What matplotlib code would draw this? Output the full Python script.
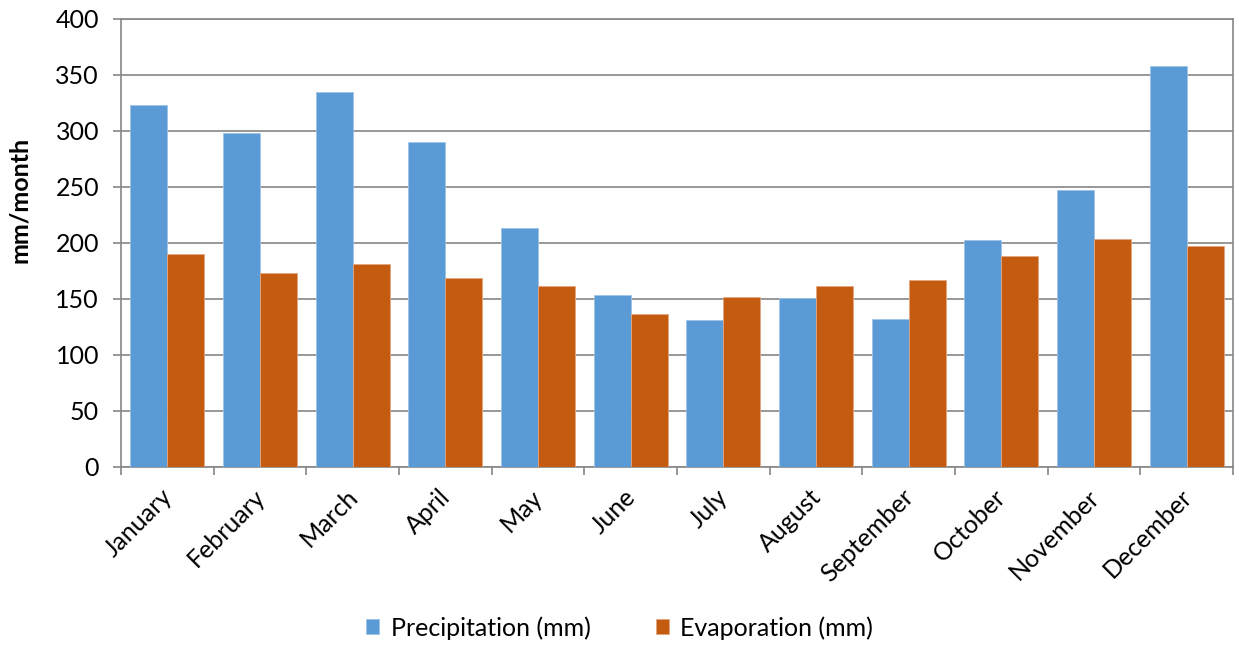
import matplotlib.pyplot as plt
import matplotlib.transforms as mtransforms
import numpy as np

OUTPUT = "out.png"
COLOR_P, COLOR_E = "#5B9BD5", "#C55A11"
GRID = "#868686"

months = ["January", "February", "March", "April", "May", "June",
          "July", "August", "September", "October", "November", "December"]
precip = [323, 298, 335, 290, 213, 154, 131, 151, 132, 203, 247, 358]
evap = [190, 173, 181, 169, 162, 137, 152, 162, 167, 188, 204, 197]
yticks = [0, 50, 100, 150, 200, 250, 300, 350, 400]

plt.rcParams["font.family"] = ["Lato", "DejaVu Sans"]
FS = 18

fig = plt.figure(figsize=(12.39, 6.46), dpi=100)
ax = fig.add_axes([121 / 1239, 1 - 467 / 646, (1233 - 121) / 1239, (467 - 19) / 646])

x = np.arange(len(months))
w = 0.4
ax.bar(x - w / 2, precip, w, color=COLOR_P, edgecolor="#9DC3E6", linewidth=0.6,
       label="Precipitation (mm)", zorder=3)
ax.bar(x + w / 2, evap, w, color=COLOR_E, edgecolor="#E2A77F", linewidth=0.6,
       label="Evaporation (mm)", zorder=3)

ax.set_xlim(-0.5, len(months) - 0.5)
ax.set_ylim(0, 400)
ax.set_yticks(yticks)
ax.tick_params(axis="y", labelsize=FS, length=5.8, color=GRID, width=1.2, pad=10)
ax.yaxis.grid(True, color=GRID, linewidth=1.2, zorder=0)

# category boundaries carry the tick marks; labels sit under each category
ax.set_xticks(np.arange(len(months) + 1) - 0.5)
ax.set_xticklabels([])
ax.tick_params(axis="x", length=5.5, color=GRID, width=1.2)
ax.set_xticks(x, minor=True)
ax.set_xticklabels(months, minor=True, rotation=45, ha="right",
                   rotation_mode="anchor", fontsize=FS)
ax.tick_params(axis="x", which="minor", length=0, pad=13)
shift = mtransforms.ScaledTranslation(-0.07, 0, fig.dpi_scale_trans)
for lab in ax.get_xticklabels(minor=True):
    lab.set_transform(lab.get_transform() + shift)

for s in ax.spines.values():
    s.set_color(GRID)
    s.set_linewidth(1.2)

fig.text(20 / 1239, 1 - 200 / 646, "mm/month", rotation=90, fontsize=FS,
         fontweight="bold", ha="center", va="center")

fig.legend(loc="center", bbox_to_anchor=(0.5, 1 - 628 / 646), ncol=2, frameon=False,
           fontsize=FS, handlelength=0.55, handleheight=0.55, handletextpad=0.45,
           columnspacing=2.6)

fig.savefig(OUTPUT, dpi=100, facecolor="white")
plt.close()
